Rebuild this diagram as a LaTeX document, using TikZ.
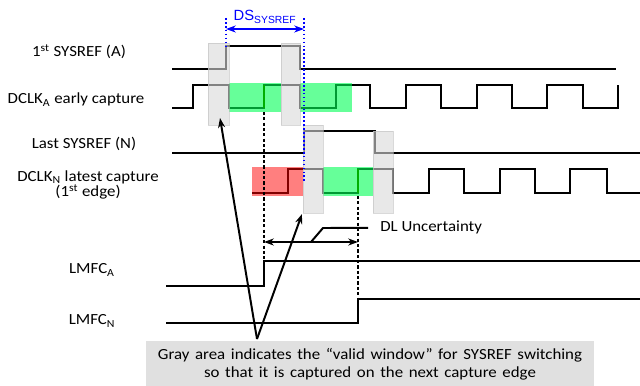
\documentclass[tikz,border=0pt]{standalone}
\usepackage{fontspec}
\setmainfont{Carlito}
\newfontfamily\arialfont{Liberation Sans}
\usepackage{graphicx}
\usepackage{tikz}
\usetikzlibrary{arrows.meta,positioning,calc}
\definecolor{dsblue}{RGB}{0,0,255}
\definecolor{okgreen}{RGB}{0,255,85}
\definecolor{edgegreen}{RGB}{0,175,0}
\definecolor{badred}{RGB}{255,0,0}
\definecolor{notegray}{RGB}{224,224,224}
\newcommand{\wide}[1]{\scalebox{1.09}[1]{#1}}

\begin{document}
\begin{tikzpicture}[x=0.025cm, y=-0.025cm,
    wave/.style={line width=1.5pt, line join=miter},
    winbox/.style={draw=gray!50, line width=0.5pt, fill=gray!30, opacity=0.6},
    okbox/.style={fill=okgreen, fill opacity=0.6},
    badbox/.style={fill=badred, fill opacity=0.5},
    lbl/.style={font=\fontsize{11}{11.2}\selectfont, anchor=base, inner sep=0pt},
    marker/.style={line width=1.4pt, dash pattern=on 2.2pt off 1.6pt},
    dsline/.style={dsblue, line width=1.2pt, dash pattern=on 1.2pt off 1.6pt},
    pointer/.style={line width=1.4pt, >={Stealth[length=7pt,width=5pt]}},
]
\useasboundingbox (0,0) rectangle (640,386);

\node[lbl] (sysA)  at (79,57)  {\wide{1\textsuperscript{st} SYSREF (A)}};
\node[lbl] (dclkA) at (76,104) {\wide{DCLK\textsubscript{A} early capture}};
\node[lbl] (sysN)  at (84,149) {\wide{Last SYSREF (N)}};
\node[lbl, align=center] (dclkN) at (88,197)
    {\lineskiplimit=-20pt\wide{DCLK\textsubscript{N} latest capture}\\
     \wide{(1\textsuperscript{st} edge)}};
\node[lbl] (lmfcA) at (92,274) {\wide{LMFC\textsubscript{A}}};
\node[lbl] (lmfcN) at (92,325) {\wide{LMFC\textsubscript{N}}};

\draw[wave] (172,69) -| (226,46) -| (300,69) -- (616,69);
\draw[wave] (172,108) -| (193,85) -| (229,108) -| (264,85) -| (300,108)
    -| (336,85) -| (370,108) -| (406,85) -| (441,108) -| (477,85)
    -| (512,108) -| (547,85) -| (583,108) -| (618,85);
\draw[wave] (172,153) -| (304,131) -| (375,153) -- (640,153);
\draw[wave] (252,193) -| (288,169) -| (323,193) -| (358,169) -| (393,193)
    -| (429,169) -| (464,193) -| (500,169) -| (535,193) -| (570,169)
    -| (607,193) -- (640,193);
\draw[wave] (166,286) -| (264,261) -- (640,261);
\draw[wave] (166,323) -| (358,299) -- (640,299);

\fill[okbox] (229,83) rectangle (281,112);
\fill[okbox] (300,83) rectangle (352,112);
\fill[okbox] (323,167) rectangle (373,196);
\fill[badbox] (252,167) rectangle (303,196);

\draw[winbox] (208,43) rectangle (229,125);
\draw[winbox] (281,43) rectangle (300,125);
\draw[winbox] (303,125) rectangle (323,213);
\draw[winbox] (373,131) rectangle (393,213);

\draw[edgegreen, line width=1.5pt] (264,108) -- (264,85);
\draw[edgegreen, line width=1.5pt] (358,193) -- (358,169);

\draw[dsline] (226,18) -- (226,47);
\draw[dsline] (304,18) -- (304,182);
\coordinate (dsL) at (226,29);
\coordinate (dsR) at (304,29);
\draw[pointer, dsblue, <->] (dsL) -- (dsR);
\node[lbl, text=dsblue] (dslabel) at (265,21)
    {\arialfont\fontsize{10.5}{12}\selectfont DS\textsubscript{SYSREF}};

\draw[marker] (264,112) -- (264,261);
\draw[marker] (358,196) -- (358,299);

\coordinate (dlA) at (264,242);
\coordinate (dlN) at (358,242);
\draw[pointer, <->] (dlA) -- (dlN);
\node[lbl, anchor=base west] (dltext) at (380,232) {\wide{DL Uncertainty}};
\draw[line width=1.4pt] ($(dlA)!0.5!(dlN)$) -- (323,228) -- ($(dltext.west)+(-12,0)$);

\node[lbl, anchor=north, fill=notegray, text width=11.175cm, align=center,
      font=\fontsize{11}{12.8}\selectfont] (note) at (370,341)
    {\rule{0pt}{12.8pt}\wide{Gray area indicates the “valid window” for SYSREF switching}\\
     \rule[-6.5pt]{0pt}{6.5pt}\wide{so that it is captured on the next capture edge}};

\coordinate (fork) at (257,339);
\coordinate (tipA) at (220,118);
\coordinate (tipN) at (302,214);
\draw[pointer, ->] (fork) -- (tipA);
\draw[pointer, ->] (fork) -- (tipN);
\end{tikzpicture}
\end{document}
